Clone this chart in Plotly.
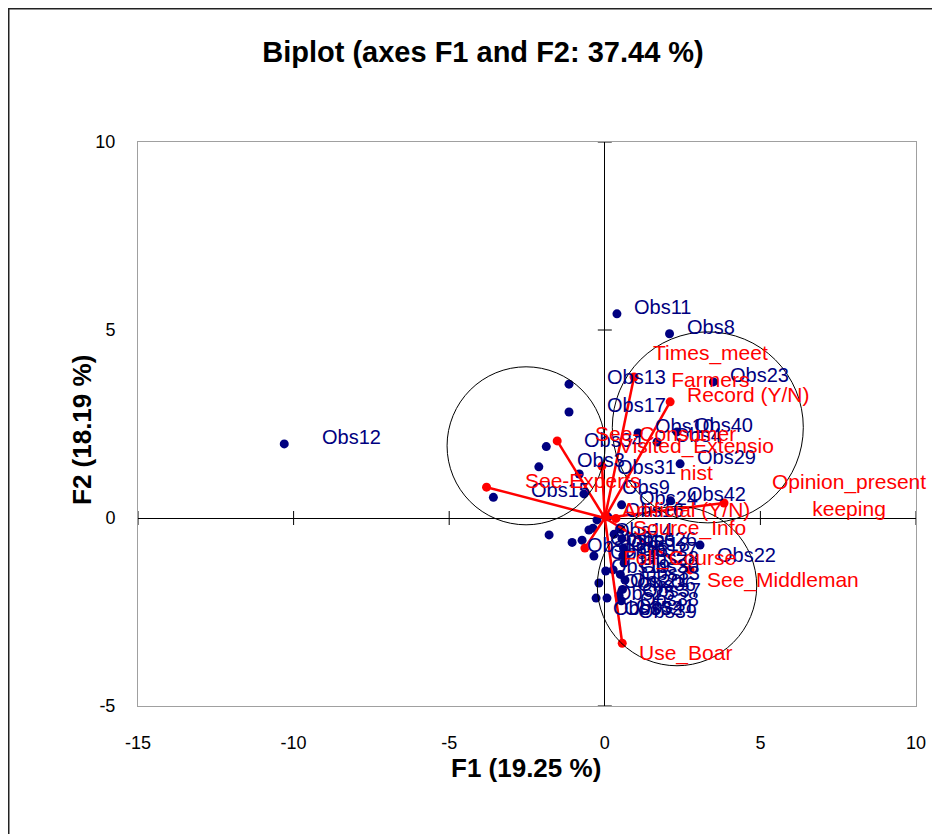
import plotly.graph_objects as go

# ---------------- data ----------------
obs_names = ["Obs11", "Obs8", "Obs23", "Obs13", "Obs17", "Obs34", "Obs3", "Obs15", "Obs12",
             "Obs31", "Obs9", "Obs24", "Obs42", "Obs29", "Obs10", "Obs4", "Obs40",
             "Obs1", "Obs2", "Obs5", "Obs6", "Obs7", "Obs14", "Obs16", "Obs18", "Obs19",
             "Obs20", "Obs21", "Obs25", "Obs35", "Obs32", "Obs41", "Obs22",
             "Obs26", "Obs27", "Obs28", "Obs30", "Obs33", "Obs36", "Obs37", "Obs38", "Obs39"]
obs_f1 = [0.39, 2.08, 3.49, -1.15, -1.15, -1.88, -2.12, -3.58, -10.30,
          -0.82, -0.67, 0.54, 2.11, 2.42, 1.07, 1.68, 2.32,
          -1.79, -1.05, -0.73, -0.51, -0.38, -0.25, 0.10, 0.30, -0.35,
          0.03, 0.27, -0.19, -0.28, 0.07, 0.46, 3.06,
          0.52, 0.55, 0.60, 0.58, 0.62, 0.50, 0.65, 0.57, 0.53]
obs_f2 = [5.43, 4.90, 3.62, 3.56, 2.82, 1.90, 1.36, 0.55, 1.97,
          1.17, 0.64, 0.35, 0.46, 1.44, 2.26, 2.02, 2.29,
          -0.45, -0.65, -0.59, -0.32, -0.27, -0.05, 0.03, -0.43, -1.01,
          -1.41, -1.38, -1.73, -2.13, -2.13, -2.07, -0.72,
          -0.30, -0.55, -0.80, -1.00, -1.20, -1.50, -1.65, -1.90, -2.20]

var_names = ["See-Experts", "See-Consumer", "Visited_Extensio<br>nist", "Times_meet<br>Farmers",
             "Record (Y/N)", "Opinion_present<br>keeping", "Artificial (Y/N)", "Source_Info",
             "Foll_Course", "See_Middleman", "Use_Boar"]
var_f1 = [-3.80, -1.53, -0.09, 0.94, 2.10, 3.83, 0.02, 0.36, -0.64, 2.74, 0.56]
var_f2 = [0.82, 2.05, 1.38, 3.75, 3.09, 0.40, 0.04, -0.01, -0.80, -1.38, -3.33]

circle_f1 = [-2.53, 3.31, 2.32]
circle_f2 = [1.92, 2.41, -1.81]

x_ticks = [-15, -10, -5, 0, 5, 10]
x_tick_text = ["-15", "-10", "-5", "0", "5", "10"]
y_ticks = [-5, 0, 5, 10]
y_tick_text = ["-5", "0", "5", "10"]

title_text = "Biplot (axes F1 and F2: 37.44 %)"
x_title = "F1 (19.25 %)"
y_title = "F2 (18.19 %)"

# ---------------- style ----------------
# the page body adds an 8px offset, so the figure is 8px smaller than the window
W, H = 932, 826
L, R, T, B = 130, 24, 134, 128
BLUE = "#000080"
RED = "#FF0000"
LABEL_FONT = "Liberation Sans, Arial, sans-serif"
HEAD_FONT = "Liberation Sans, Arial, sans-serif"
circle_r_px = [79, 95.5, 79.7]
var_shift_override = {"Opinion_present<br>keeping": (46, 8), "Times_meet<br>Farmers": (17, 11)}

pw, ph = W - L - R, H - T - B


def px_to_paper(px, py):
    # px, py in figure pixels (figure top-left = 0,0)
    return (px - L) / pw, (H - B - py) / ph


fig = go.Figure()

# observations
fig.add_trace(go.Scatter(x=obs_f1, y=obs_f2, mode="markers",
                         marker=dict(color=BLUE, size=9), hoverinfo="skip"))

# variable vectors
lx, ly = [], []
for a, b in zip(var_f1, var_f2):
    lx += [0, a, None]
    ly += [0, b, None]
fig.add_trace(go.Scatter(x=lx, y=ly, mode="lines", line=dict(color=RED, width=2.5),
                         hoverinfo="skip"))
fig.add_trace(go.Scatter(x=var_f1, y=var_f2, mode="markers",
                         marker=dict(color=RED, size=9), hoverinfo="skip"))

annotations = []


def lab(x, y, text, color, size, shift=None):
    if shift is None:
        dx = 36 if x < -0.5 else 15
        dy = 7 if y >= 0 else -10
    else:
        dx, dy = shift
    annotations.append(dict(x=x, y=y, text=text, showarrow=False, xanchor="left",
                            yanchor="middle", xshift=dx, yshift=dy, align="center",
                            font=dict(family=LABEL_FONT, size=size, color=color)))


for n, a, b in zip(obs_names, obs_f1, obs_f2):
    lab(a, b, n, BLUE, 20)
for n, a, b in zip(var_names, var_f1, var_f2):
    lab(a, b, n, RED, 21, var_shift_override.get(n))

# axis titles
ax, ay = px_to_paper(518, 777)
annotations.append(dict(x=ax, y=ay, xref="paper", yref="paper", text="<b>" + x_title + "</b>",
                        showarrow=False, font=dict(family=HEAD_FONT, size=26, color="black")))
bx, by = px_to_paper(57, 422)
annotations.append(dict(x=bx, y=by, xref="paper", yref="paper", text="<b>" + y_title + "</b>",
                        showarrow=False, textangle=-90,
                        font=dict(family=HEAD_FONT, size=26, color="black")))

shapes = []
# cluster circles
for cx, cy, r in zip(circle_f1, circle_f2, circle_r_px):
    shapes.append(dict(type="circle", xref="x", yref="y", xsizemode="pixel", ysizemode="pixel",
                       xanchor=cx, yanchor=cy, x0=-r, x1=r, y0=-r, y1=r,
                       line=dict(color="black", width=1)))
# tick marks on the zero lines
for t in x_ticks:
    if t != 0:
        shapes.append(dict(type="line", xref="x", yref="y", ysizemode="pixel", yanchor=0,
                           x0=t, x1=t, y0=-7, y1=7, line=dict(color="black", width=1)))
for t in y_ticks:
    if t != 0:
        shapes.append(dict(type="line", xref="x", yref="y", xsizemode="pixel", xanchor=0,
                           y0=t, y1=t, x0=-7, x1=7, line=dict(color="black", width=1)))
# outer chart border
x0p, y0p = px_to_paper(0.75, 0.75)
x1p, y1p = px_to_paper(W + 10, H + 10)
shapes.append(dict(type="rect", xref="paper", yref="paper", x0=x0p, x1=x1p, y0=y1p, y1=y0p,
                   line=dict(color="#222222", width=1.5), layer="below"))

fig.update_layout(
    width=W, height=H,
    margin=dict(l=L, r=R, t=T, b=B),
    paper_bgcolor="white", plot_bgcolor="white",
    showlegend=False,
    title=dict(text="<b>" + title_text + "</b>", x=475 / W,
               xanchor="center", y=1 - 44 / H, yanchor="middle", yref="container",
               font=dict(family=HEAD_FONT, size=29, color="black")),
    xaxis=dict(range=[-15, 10], tickvals=x_ticks, ticktext=x_tick_text, showgrid=False,
               zeroline=True, zerolinecolor="black", zerolinewidth=1,
               showline=True, linecolor="#A0A0A0", linewidth=1, mirror=True,
               ticks="outside", ticklen=20, tickcolor="rgba(0,0,0,0)",
               tickfont=dict(family=LABEL_FONT, size=18, color="black")),
    yaxis=dict(range=[-5, 10], tickvals=y_ticks, ticktext=y_tick_text, showgrid=False,
               zeroline=True, zerolinecolor="black", zerolinewidth=1,
               showline=True, linecolor="#A0A0A0", linewidth=1, mirror=True,
               ticks="outside", ticklen=18, tickcolor="rgba(0,0,0,0)",
               tickfont=dict(family=LABEL_FONT, size=18, color="black")),
    annotations=annotations,
    shapes=shapes,
)

fig.write_html("out.html")
